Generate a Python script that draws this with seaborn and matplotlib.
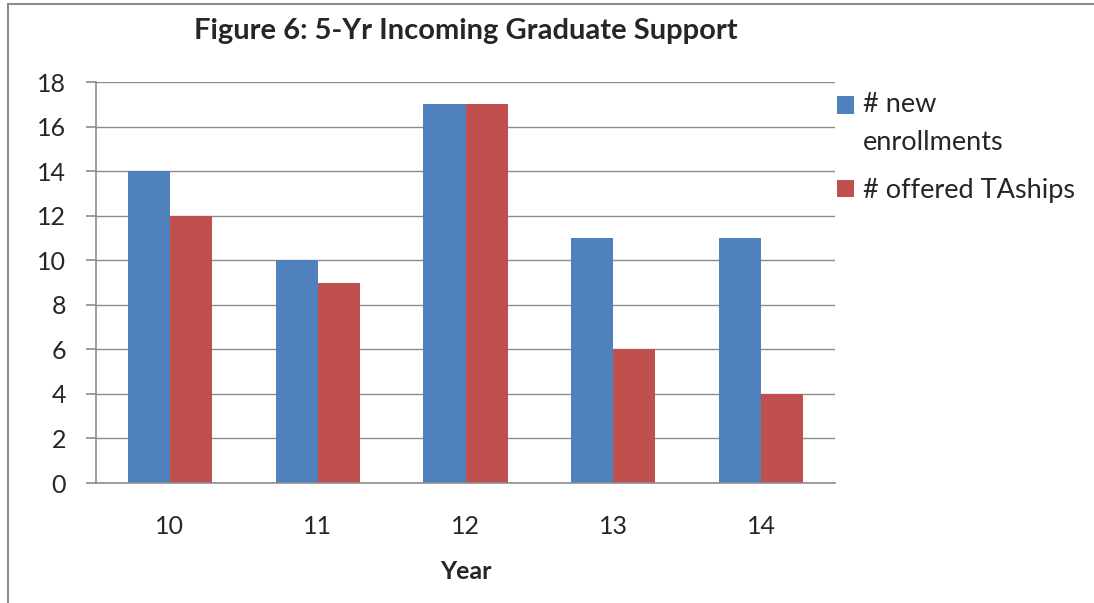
import numpy as np
import pandas as pd
import matplotlib
matplotlib.use("Agg")
import matplotlib.pyplot as plt
import seaborn as sns

# values
years = ["10", "11", "12", "13", "14"]
new_enrollments = [14, 10, 17, 11, 11]
offered_taships = [12, 9, 17, 6, 4]
series_names = ["# new\nenrollments", "# offered TAships"]
colors = ["#4F81BD", "#C0504D"]

df = pd.DataFrame({
    "Year": years * 2,
    "Count": new_enrollments + offered_taships,
    "Series": [series_names[0]] * len(years) + [series_names[1]] * len(years),
})

sns.set_style("white")
plt.rcParams["font.family"] = ["Lato", "DejaVu Sans"]

fig = plt.figure(figsize=(10.94, 6.03), dpi=100)
ax = fig.add_axes([0.0878, 0.199, 0.6755, 0.665])

sns.barplot(data=df, x="Year", y="Count", hue="Series", palette=colors,
            width=0.57, saturation=1, ax=ax, edgecolor="none")

grid_c = "#8c8c8c"
fs = 18
ax.set_ylim(0, 18)
ax.set_yticks(range(0, 19, 2))
ax.set_xlim(-0.5, len(years) - 0.5)
ax.set_axisbelow(True)
ax.yaxis.grid(True, color=grid_c, linewidth=1)
ax.xaxis.grid(False)
for s in ["top", "right"]:
    ax.spines[s].set_visible(False)
for s in ["left", "bottom"]:
    ax.spines[s].set_color(grid_c)
    ax.spines[s].set_linewidth(1.2)

ax.set_xticks(np.arange(-0.5, len(years)), minor=True)
ax.tick_params(axis="x", which="major", length=0, pad=23, labelsize=fs)
ax.tick_params(axis="x", which="minor", length=7.5, color=grid_c, width=1.2, direction="out")
ax.tick_params(axis="y", length=7.5, color=grid_c, width=1.2, direction="out",
               left=True, labelsize=fs, pad=14)

ax.set_xlabel("Year", fontsize=fs, fontweight="bold", labelpad=16)
ax.set_ylabel("")
ax.set_title("Figure 6: 5-Yr Incoming Graduate Support", fontsize=21,
             fontweight="bold", pad=31)

leg = ax.legend(loc="upper left", bbox_to_anchor=(0.755, 0.866), bbox_transform=fig.transFigure,
                frameon=False, fontsize=19.5, handlelength=0.63, handleheight=0.63,
                handletextpad=0.35, labelspacing=0.85, borderaxespad=0)
for t in leg.get_texts():
    t.set_linespacing(1.67)
# square sits next to the first line of the wrapped label, as in Excel
h0 = leg.legend_handles[0]
h0.set_y(h0.get_y() + 13.5)

# chart-area border (top and left edges visible in the reference)
fig.add_artist(plt.Line2D([0.0075, 0.0075], [0, 0.994], color="#8c8c8c", lw=1.5,
                          transform=fig.transFigure))
fig.add_artist(plt.Line2D([0.0075, 1], [0.994, 0.994], color="#8c8c8c", lw=1.5,
                          transform=fig.transFigure))

fig.savefig("out.png", dpi=100)
